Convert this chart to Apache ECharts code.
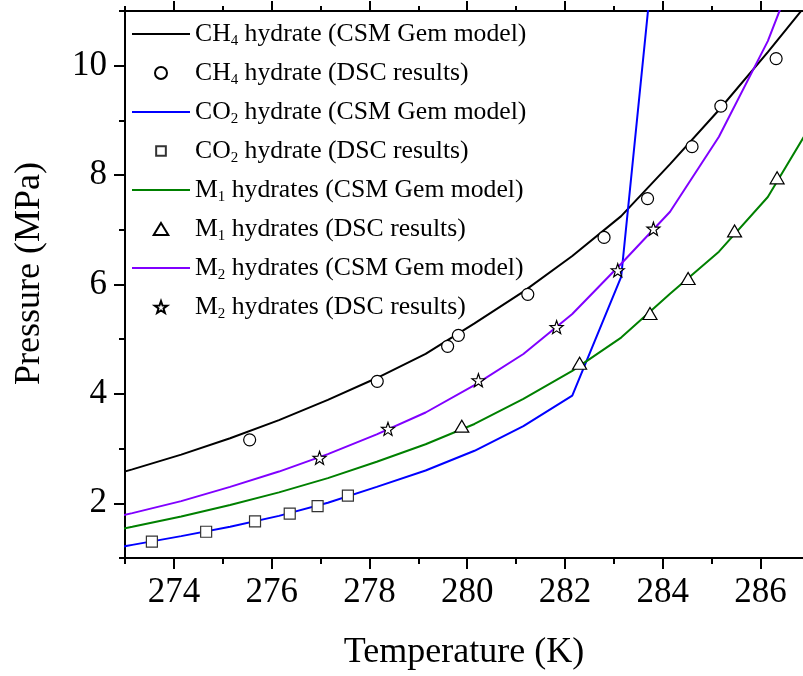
<!DOCTYPE html>
<html>
<head>
<meta charset="utf-8">
<script src="https://cdn.jsdelivr.net/npm/echarts@6/dist/echarts.min.js"></script>
<style>html,body{margin:0;padding:0;background:#fff;}#c{width:803px;height:676px;}</style>
</head>
<body>
<div id="c"></div>
<script>
// Model temperatures (K)
const modelT = [272.15, 273.15, 274.15, 275.15, 276.15, 277.15, 278.15, 279.15, 280.15, 281.15, 282.15, 283.15, 284.15, 285.15, 286.15, 287.15];
const ch4Model = [2.37, 2.62, 2.89, 3.19, 3.52, 3.89, 4.29, 4.73, 5.29, 5.87, 6.52, 7.25, 8.20, 9.19, 10.25, 11.35];
const co2ModelT = [272.15, 273.15, 274.15, 275.15, 276.15, 277.15, 278.15, 279.15, 280.15, 281.15, 282.15, 283.15, 284.15];
const co2Model = [1.08, 1.24, 1.40, 1.57, 1.77, 2.01, 2.30, 2.60, 2.96, 3.41, 3.97, 6.14, 15.0];
const m1Model = [1.40, 1.57, 1.76, 1.97, 2.20, 2.46, 2.76, 3.08, 3.45, 3.91, 4.42, 5.03, 5.83, 6.60, 7.60, 9.09];
const m2Model = [1.62, 1.82, 2.04, 2.30, 2.58, 2.90, 3.26, 3.66, 4.16, 4.73, 5.46, 6.38, 7.33, 8.70, 10.45, 12.75];

// DSC results
const ch4T = [275.55, 278.16, 279.60, 279.82, 281.24, 282.80, 283.69, 284.60, 285.19, 286.32];
const ch4P = [3.16, 4.23, 4.87, 5.07, 5.82, 6.86, 7.57, 8.52, 9.26, 10.13];
const co2T = [273.55, 274.66, 275.66, 276.37, 276.94, 277.56];
const co2P = [1.30, 1.48, 1.67, 1.81, 1.95, 2.14];
const m1T = [279.89, 282.30, 283.74, 284.52, 285.47, 286.34];
const m1P = [3.41, 4.56, 5.47, 6.11, 6.98, 7.95];
const m2T = [276.98, 278.38, 280.23, 281.83, 283.08, 283.81];
const m2P = [2.83, 3.36, 4.25, 5.22, 6.26, 7.02];

// Ticks
const xMajor = [274, 276, 278, 280, 282, 284, 286];
const xMinor = [273, 275, 277, 279, 281, 283, 285];
const yMajor = [2, 4, 6, 8, 10];
const yMinor = [1, 3, 5, 7, 9, 11];

const names = [
  'CH4 hydrate (CSM Gem model)', 'CH4 hydrate (DSC results)',
  'CO2 hydrate (CSM Gem model)', 'CO2 hydrate (DSC results)',
  'M1 hydrates (CSM Gem model)', 'M1 hydrates (DSC results)',
  'M2 hydrates (CSM Gem model)', 'M2 hydrates (DSC results)'
];
const richNames = {
  'CH4 hydrate (CSM Gem model)': '{t|CH}{s|4}{t| hydrate (CSM Gem model)}',
  'CH4 hydrate (DSC results)': '{t|CH}{s|4}{t| hydrate (DSC results)}',
  'CO2 hydrate (CSM Gem model)': '{t|CO}{s|2}{t| hydrate (CSM Gem model)}',
  'CO2 hydrate (DSC results)': '{t|CO}{s|2}{t| hydrate (DSC results)}',
  'M1 hydrates (CSM Gem model)': '{t|M}{s|1}{t| hydrates (CSM Gem model)}',
  'M1 hydrates (DSC results)': '{t|M}{s|1}{t| hydrates (DSC results)}',
  'M2 hydrates (CSM Gem model)': '{t|M}{s|2}{t| hydrates (CSM Gem model)}',
  'M2 hydrates (DSC results)': '{t|M}{s|2}{t| hydrates (DSC results)}'
};

const FONT = 'Liberation Serif';
const zip = (a, b) => a.map((v, i) => [v, b[i]]);
const star = 'path://M0,-10L2.35,-3.24L9.51,-3.09L3.8,1.24L5.88,8.09L0,4.2L-5.88,8.09L-3.8,1.24L-9.51,-3.09L-2.35,-3.24Z';
const tri = 'path://M7,0L14,11.5L0,11.5Z';
const lineIcon = 'path://M0,0L58,0L58,2L0,2Z';
const sqIcon = 'path://M-1.2,-1.2M11.2,11.2M0,0L10,0L10,10L0,10Z';

const XMIN = 273, XMAX = 286.87, YMIN = 1, YMAX = 11;
function xAx(pos, ticks, len, showLine, showLabel, extra) {
  return Object.assign({
    type: 'value', position: pos, min: XMIN, max: XMAX,
    axisLine: { show: showLine, onZero: false, lineStyle: { color: '#000', width: 2 } },
    axisTick: { show: true, inside: false, length: len, customValues: ticks, lineStyle: { color: '#000', width: 2 } },
    axisLabel: showLabel ? { show: true, customValues: ticks, fontFamily: FONT, fontSize: 35, color: '#000', margin: 17 } : { show: false },
    splitLine: { show: false }
  }, extra || {});
}
function yAx(ticks, len, showLine, showLabel, extra) {
  return Object.assign({
    type: 'value', position: 'left', min: YMIN, max: YMAX,
    axisLine: { show: showLine, onZero: false, lineStyle: { color: '#000', width: 2 } },
    axisTick: { show: true, inside: false, length: len, customValues: ticks, lineStyle: { color: '#000', width: 2 } },
    axisLabel: showLabel ? { show: true, customValues: ticks, fontFamily: FONT, fontSize: 35, color: '#000', margin: 18 } : { show: false },
    splitLine: { show: false }
  }, extra || {});
}

const lineS = (name, t, p, color) => ({
  name, type: 'line', data: zip(t, p), xAxisIndex: 0, yAxisIndex: 0,
  showSymbol: false, symbol: 'none', clip: true, smooth: false,
  lineStyle: { color, width: 2 }, itemStyle: { color }, z: 2
});
const scatS = (name, t, p, symbol, size, border) => ({
  name, type: 'scatter', data: zip(t, p), xAxisIndex: 0, yAxisIndex: 0,
  symbol, symbolSize: size, clip: true,
  itemStyle: { color: '#fff', borderColor: border, borderWidth: 1.2, opacity: 1 }, z: 5
});

const chart = echarts.init(document.getElementById('c'), null, { renderer: 'canvas' });
chart.setOption({
  animation: false,
  backgroundColor: '#fff',
  grid: { left: 125, top: 11, right: 0, bottom: 115, containLabel: false },
  xAxis: [
    xAx('bottom', xMajor, 11, true, true, {
      name: 'Temperature (K)', nameLocation: 'middle', nameGap: 77,
      nameTextStyle: { fontFamily: FONT, fontSize: 36, color: '#000' }
    }),
    xAx('bottom', xMinor, 6, false, false),
    xAx('top', xMajor, 10, true, false),
    xAx('top', xMinor, 5, false, false)
  ],
  yAxis: [
    yAx(yMajor, 11, true, true, {
      name: 'Pressure (MPa)', nameLocation: 'middle', nameGap: 77,
      nameTextStyle: { fontFamily: FONT, fontSize: 36, color: '#000', padding: [0, 0, 0, 22] }
    }),
    yAx(yMinor, 6, false, false)
  ],
  legend: {
    orient: 'vertical', left: 132, top: 21, padding: 0,
    itemWidth: 58, itemHeight: 12, itemGap: 11,
    data: [
      { name: names[0], icon: lineIcon },
      { name: names[1], icon: 'circle' },
      { name: names[2], icon: lineIcon },
      { name: names[3], icon: sqIcon },
      { name: names[4], icon: lineIcon },
      { name: names[5], icon: tri },
      { name: names[6], icon: lineIcon },
      { name: names[7], icon: star }
    ],
    formatter: n => richNames[n],
    textStyle: {
      fontFamily: FONT, color: '#000',
      rich: {
        t: { fontFamily: FONT, fontSize: 25.7, lineHeight: 30, color: '#000' },
        s: { fontFamily: FONT, fontSize: 15, lineHeight: 6, verticalAlign: 'bottom', color: '#000' }
      }
    }
  },
  series: [
    lineS(names[0], modelT, ch4Model, '#000000'),
    lineS(names[2], co2ModelT, co2Model, '#0000ff'),
    lineS(names[4], modelT, m1Model, '#008000'),
    lineS(names[6], modelT, m2Model, '#8000ff'),
    scatS(names[1], ch4T, ch4P, 'circle', 12, '#000'),
    scatS(names[3], co2T, co2P, 'rect', 11, '#333'),
    scatS(names[5], m1T, m1P, tri, [14, 12], '#000'),
    scatS(names[7], m2T, m2P, star, 13, '#000')
  ]
});
</script>
</body>
</html>
